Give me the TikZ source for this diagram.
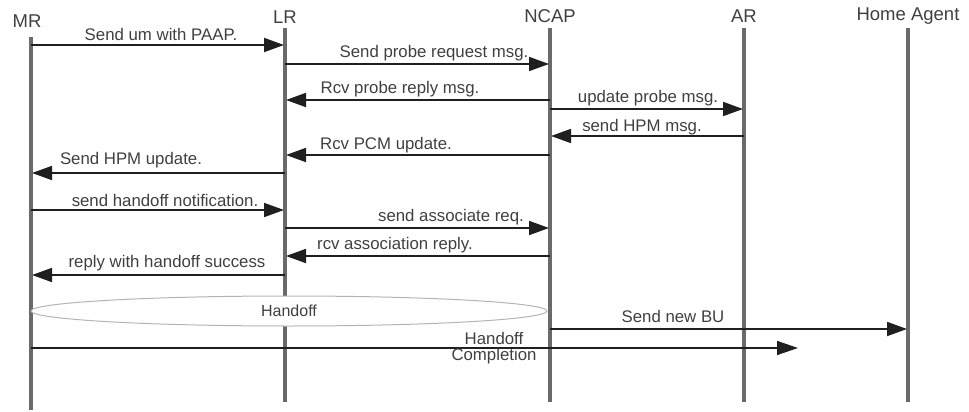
\documentclass[tikz,border=0pt]{standalone}
\usepackage{fontspec}
\setmainfont{Liberation Sans}
\usetikzlibrary{arrows.meta,shapes.geometric}
\definecolor{lifegray}{HTML}{6A6A6A}
\definecolor{txtgray}{HTML}{404040}
\definecolor{ellgray}{HTML}{B4B4B4}
\begin{document}
\begin{tikzpicture}[x=1pt,y=-1pt,
  lifeline/.style={draw=lifegray, line width=3.2pt},
  msg/.style={draw=black!88, line width=1.8pt, -{Triangle[length=20pt,width=14pt]}, shorten >=1pt},
  thinmsg/.style={draw=black!88, line width=1.4pt, -{Triangle[length=21pt,width=14pt]}},
  lbl/.style={text=txtgray, font=\fontsize{16.8}{16}\selectfont, inner sep=0pt},
  head/.style={text=txtgray, font=\fontsize{18.5}{20}\selectfont, inner sep=0pt}]
\useasboundingbox (0,0) rectangle (969,412);
% heads
\node[head] (MRh) at (27,21) {MR};
\node[head] (LRh) at (285,17) {LR};
\node[head] (NCh) at (550,16) {NCAP};
\node[head] (ARh) at (744,16) {AR};
\node[head] (HAh) at (908,16) {Home Agent};
% lifeline ends
\coordinate (MRt) at (31,37);  \coordinate (MRb) at (31,410);
\coordinate (LRt) at (285,28); \coordinate (LRb) at (285,402);
\coordinate (NCt) at (550,28); \coordinate (NCb) at (550,402);
\coordinate (ARt) at (744,28); \coordinate (ARb) at (744,402);
\coordinate (HAt) at (908,28); \coordinate (HAb) at (908,402);
\foreach \a/\b in {MRt/MRb,LRt/LRb,NCt/NCb,ARt/ARb,HAt/HAb}
  \draw[lifeline] (\a) -- (\b);
% messages
\draw[msg] (MRt |- 0,45) -- (LRt |- 0,45);
\node[lbl] (m1) at (161,34) {Send um with PAAP.};
\draw[msg] (LRt |- 0,64) -- (NCt |- 0,64);
\node[lbl] (m2) at (434,53) {Send probe request msg.};
\draw[msg] (NCt |- 0,100) -- (LRt |- 0,100);
\node[lbl] (m3) at (400,89) {Rcv probe reply msg.};
\draw[msg] (NCt |- 0,109) -- (ARt |- 0,109);
\node[lbl] (m4) at (648,98) {update probe msg.};
\draw[msg] (ARt |- 0,136) -- (NCt |- 0,136);
\node[lbl] (m5) at (642,127) {send HPM msg.};
\draw[msg] (NCt |- 0,155) -- (LRt |- 0,155);
\node[lbl] (m6) at (386,145) {Rcv PCM update.};
\draw[msg] (LRt |- 0,173) -- (MRt |- 0,173);
\node[lbl] (m7) at (131,160) {Send HPM update.};
\draw[msg] (MRt |- 0,210) -- (LRt |- 0,210);
\node[lbl] (m8) at (165,200) {send handoff notification.};
\draw[msg] (LRt |- 0,228) -- (NCt |- 0,228);
\node[lbl] (m9) at (451,217) {send associate req.};
\draw[msg] (NCt |- 0,256) -- (LRt |- 0,256);
\node[lbl] (m10) at (395,245) {rcv association reply.};
\draw[msg] (LRt |- 0,275) -- (MRt |- 0,275);
\node[lbl] (m11) at (167,263) {reply with handoff success};
% handoff ellipse
\node[ellipse, draw=ellgray, fill=white, line width=1pt, minimum width=516pt, minimum height=30pt, inner sep=0pt,
      text=txtgray, font=\fontsize{16}{16}\selectfont] (hoff) at (289,311) {Handoff};
% new BU
\draw[msg] (NCt |- 0,329) -- (HAt |- 0,329);
\node[lbl] (m12) at (673,316) {Send new BU};
% handoff completion
\coordinate (HCend) at (798,348);
\draw[thinmsg] (MRt |- 0,348) -- (HCend);
\node[lbl, align=center] (m13) at (494,348) {Handoff\\Completion};
\end{tikzpicture}
\end{document}
